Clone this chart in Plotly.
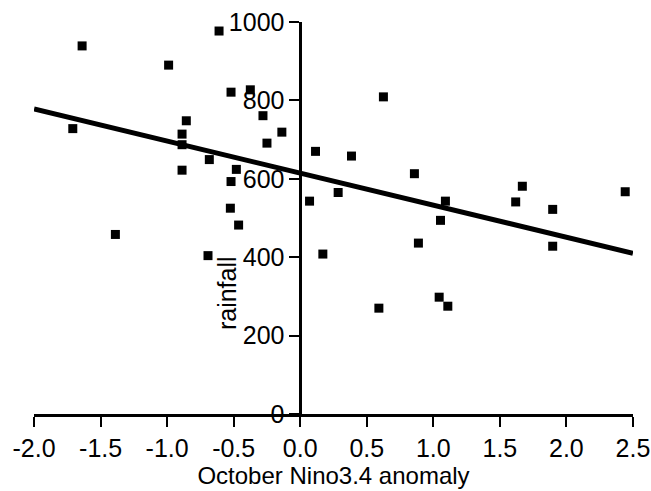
import plotly.graph_objects as go

# Data
nino_anomaly = [-1.639, -0.610, -0.989, -0.520, -0.375, -1.709, -0.856, -0.888,
                -0.280, -0.138, -0.250, -0.888, 0.115, -0.683, -0.888, -0.480,
                -0.520, 0.070, -0.525, -0.463, -1.389, -0.693, 0.170, 0.625,
                0.385, 0.858, 0.285, 1.091, 1.054, 0.888, 1.669, 1.619, 1.897,
                2.442, 1.897, 0.591, 1.044, 1.109]
rainfall = [939, 977, 890, 821, 827, 728, 748, 714,
            761, 719, 691, 687, 670, 649, 622, 624,
            593, 543, 525, 482, 458, 404, 408, 809,
            658, 613, 565, 543, 494, 436, 581, 541, 522,
            567, 428, 270, 298, 275]

fit_x = [-2.0, 2.5]
fit_y = [778, 410]

x_ticks = [-2.0, -1.5, -1.0, -0.5, 0.0, 0.5, 1.0, 1.5, 2.0, 2.5]
y_ticks = [0, 200, 400, 600, 800, 1000]

FONT = "Liberation Sans, Arial, Helvetica, sans-serif"

fig = go.Figure()
fig.add_trace(go.Scatter(
    x=fit_x, y=fit_y, mode="lines",
    line=dict(color="black", width=5),
    showlegend=False, hoverinfo="skip"))
fig.add_trace(go.Scatter(
    x=nino_anomaly, y=rainfall, mode="markers",
    marker=dict(symbol="square", size=9, color="black"),
    showlegend=False))

fig.update_layout(
    width=651, height=491,
    margin=dict(l=33.5, r=17.7, t=21.5, b=76.5),
    paper_bgcolor="white", plot_bgcolor="white",
    font=dict(family=FONT, size=25, color="black"),
    xaxis=dict(
        range=[-2.0005, 2.5005], tickvals=x_ticks,
        ticktext=[f"{v:.1f}" for v in x_ticks],
        ticks="outside", ticklen=10, tickwidth=2, tickcolor="black",
        showline=True, linewidth=2.5, linecolor="black",
        showgrid=False, zeroline=False, automargin=False,
        ticklabeloverflow="allow",
        title=dict(text="October Nino3.4 anomaly", font=dict(size=24), standoff=0),
    ),
    yaxis=dict(
        range=[0, 1000], tickvals=y_ticks,
        anchor="free", position=4 / 9,
        ticks="outside", ticklen=10, tickwidth=2, tickcolor="black",
        showline=True, linewidth=2.5, linecolor="black",
        showgrid=False, zeroline=False, automargin=False,
        ticklabeloverflow="allow",
    ),
    annotations=[dict(
        x=0, y=309, xref="x", yref="y", text="rainfall",
        textangle=-90, showarrow=False, xanchor="center", yanchor="middle",
        xshift=-73, font=dict(size=25))],
)

# remove the default 8px page margin so the 651x491 figure fills the window
fig.write_html(
    "out.html",
    config={"displayModeBar": False},
    post_script="document.body.style.margin='0';"
                "document.documentElement.style.overflow='hidden';",
)
